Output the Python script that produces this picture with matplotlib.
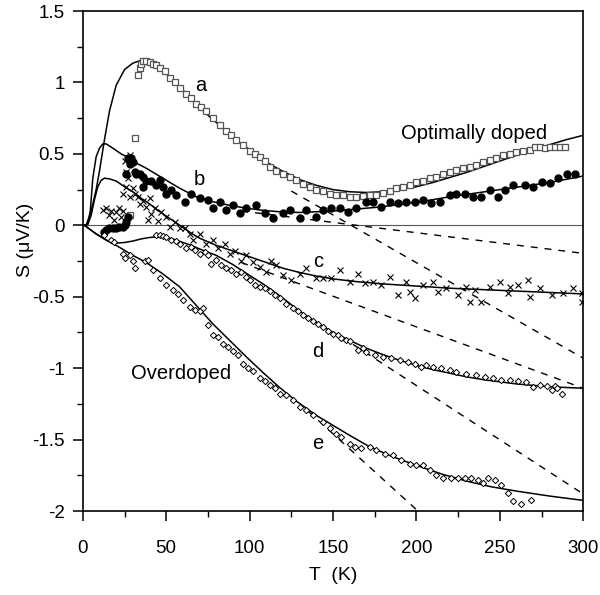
import numpy as np
import matplotlib
matplotlib.use("Agg")
from matplotlib import pyplot as plt
from matplotlib.ticker import MultipleLocator, FuncFormatter

plt.rcParams['font.family'] = ['Liberation Sans', 'DejaVu Sans']
plt.rcParams['axes.unicode_minus'] = False

a_T = [28, 31, 33, 34, 35, 36, 38, 40, 42, 44, 46, 49, 52, 55, 58, 62, 65, 68, 71, 74, 78, 82, 86, 89, 92,
       96, 100, 103, 106, 109, 112, 116, 120, 124, 128, 132, 136, 140, 144, 148, 152, 156, 160, 164, 168,
       172, 176, 180, 184, 188, 192, 196, 200, 204, 208, 212, 216, 220, 224, 228, 232, 236, 240, 244, 248,
       252, 256, 260, 264, 268, 271, 274, 277, 280, 283, 286, 289]
a_S = [0.07, 0.61, 1.05, 1.10, 1.13, 1.15, 1.15, 1.14, 1.13, 1.12, 1.10, 1.08, 1.03, 1.00, 0.96, 0.92, 0.89,
       0.85, 0.83, 0.80, 0.75, 0.70, 0.66, 0.63, 0.60, 0.56, 0.52, 0.50, 0.48, 0.45, 0.41, 0.38, 0.36, 0.34,
       0.32, 0.29, 0.27, 0.25, 0.24, 0.22, 0.21, 0.21, 0.20, 0.20, 0.205, 0.21, 0.215, 0.225, 0.24, 0.26,
       0.27, 0.28, 0.30, 0.31, 0.33, 0.34, 0.36, 0.37, 0.39, 0.40, 0.41, 0.42, 0.44, 0.46, 0.47, 0.49,
       0.50, 0.51, 0.52, 0.53, 0.55, 0.55, 0.54, 0.55, 0.55, 0.55, 0.55]

b_T = [13, 14, 16, 18, 20, 22, 24, 25, 26, 27, 26, 27, 28, 29, 30, 31, 32, 34, 36, 36, 38, 41, 44, 46,
       48, 50, 53, 56, 61, 65, 70, 75, 78, 82, 86, 90, 94, 98, 104, 109, 114, 120, 124, 130, 134, 140,
       144, 149, 154, 159, 164, 170, 174, 179, 184, 189, 194, 199, 204, 209, 214, 220, 224, 229, 234,
       239, 244, 249, 253, 258, 265, 270, 275, 280, 285, 290, 295]
b_S = [-0.05, -0.03, -0.02, -0.02, -0.02, -0.01, -0.01, 0.0, 0.02, 0.06, 0.36, 0.47, 0.43, 0.47, 0.44,
       0.37, 0.36, 0.36, 0.34, 0.27, 0.31, 0.31, 0.28, 0.32, 0.27, 0.22, 0.25, 0.21, 0.16, 0.22, 0.19,
       0.18, 0.12, 0.16, 0.11, 0.14, 0.085, 0.12, 0.14, 0.085, 0.05, 0.085, 0.107, 0.05, 0.107, 0.06,
       0.107, 0.12, 0.12, 0.095, 0.12, 0.165, 0.165, 0.13, 0.165, 0.155, 0.165, 0.165, 0.18, 0.155,
       0.165, 0.21, 0.22, 0.22, 0.20, 0.20, 0.25, 0.20, 0.25, 0.28, 0.28, 0.27, 0.305, 0.295, 0.33,
       0.36, 0.36]

c_T = [12, 14, 16, 17, 19, 20, 22, 23, 24, 24, 25, 26, 26, 27, 28, 28, 30, 31, 33, 34, 36, 38, 39, 40,
       41, 43, 45, 47, 50, 52, 55, 58, 61, 64, 66, 70, 74, 78, 81, 85, 88, 91, 95, 98, 102, 106, 110,
       113, 116, 120, 125, 130, 134, 140, 144, 149, 154, 160, 165, 169, 174, 179, 184, 189, 194, 196,
       199, 204, 210, 213, 218, 225, 230, 232, 235, 239, 244, 250, 255, 256, 261, 267, 268, 274, 281,
       288, 294, 299, 299]
c_S = [0.11, 0.12, 0.07, 0.10, 0.04, 0.09, 0.12, 0.06, 0.10, 0.22, 0.45, 0.37, 0.27, 0.33, 0.49, 0.20,
       0.26, 0.22, 0.20, 0.15, 0.17, 0.13, 0.04, 0.19, 0.08, 0.12, 0.03, 0.09, 0.06, -0.01, 0.02, -0.02,
       -0.02, -0.06, -0.10, -0.06, -0.13, -0.10, -0.16, -0.13, -0.20, -0.18, -0.25, -0.21, -0.26, -0.29,
       -0.33, -0.25, -0.28, -0.35, -0.38, -0.34, -0.30, -0.37, -0.37, -0.37, -0.31, -0.395, -0.34,
       -0.405, -0.395, -0.42, -0.36, -0.49, -0.395, -0.465, -0.51, -0.42, -0.395, -0.465, -0.44,
       -0.49, -0.43, -0.535, -0.45, -0.535, -0.43, -0.395, -0.475, -0.43, -0.42, -0.385, -0.50, -0.44,
       -0.49, -0.475, -0.44, -0.475, -0.535]

d_T = [13, 17, 19, 44, 46, 48, 50, 53, 56, 58, 62, 65, 67, 70, 73, 75, 77, 80, 83, 86, 89, 92, 95, 98,
       100, 103, 106, 109, 112, 115, 118, 122, 126, 129, 132, 135, 138, 141, 144, 147, 150, 153, 155,
       158, 160, 165, 168, 170, 175, 180, 185, 190, 195, 199, 203, 206, 210, 215, 220, 224, 230, 236,
       241, 246, 251, 256, 261, 266, 270, 274, 278, 281, 283, 284, 287]
d_S = [-0.07, -0.10, -0.12, -0.07, -0.07, -0.075, -0.08, -0.10, -0.11, -0.13, -0.16, -0.15, -0.17, -0.20,
       -0.19, -0.21, -0.27, -0.24, -0.28, -0.30, -0.31, -0.34, -0.33, -0.36, -0.38, -0.42, -0.43, -0.44,
       -0.46, -0.49, -0.51, -0.55, -0.58, -0.60, -0.63, -0.65, -0.67, -0.69, -0.71, -0.74, -0.76, -0.77,
       -0.79, -0.80, -0.81, -0.87, -0.86, -0.885, -0.91, -0.92, -0.93, -0.94, -0.955, -0.97, -0.99,
       -0.98, -0.99, -1.00, -1.01, -1.025, -1.04, -1.05, -1.06, -1.07, -1.08, -1.08, -1.09, -1.095,
       -1.13, -1.12, -1.125, -1.15, -1.125, -1.14, -1.18]

e_T = [24, 25, 28, 30, 31, 37, 39, 42, 46, 50, 54, 57, 60, 64, 67, 70, 72, 75, 78, 81, 84, 87, 90, 93,
       96, 99, 102, 106, 109, 112, 115, 118, 122, 126, 130, 134, 138, 144, 148, 152, 155, 160, 163, 167,
       172, 176, 181, 186, 191, 196, 200, 204, 208, 212, 216, 221, 225, 229, 233, 237, 240, 243, 247,
       251, 255, 258, 263, 269]
e_S = [-0.20, -0.23, -0.21, -0.25, -0.30, -0.25, -0.24, -0.31, -0.37, -0.42, -0.45, -0.48, -0.52, -0.57,
       -0.59, -0.60, -0.58, -0.70, -0.77, -0.78, -0.83, -0.85, -0.88, -0.91, -0.97, -1.00, -1.02, -1.07,
       -1.09, -1.12, -1.14, -1.18, -1.19, -1.22, -1.27, -1.29, -1.33, -1.375, -1.42, -1.46, -1.48, -1.53,
       -1.55, -1.56, -1.55, -1.57, -1.60, -1.61, -1.64, -1.67, -1.68, -1.68, -1.71, -1.75, -1.77, -1.77,
       -1.77, -1.77, -1.77, -1.78, -1.80, -1.77, -1.78, -1.82, -1.87, -1.93, -1.95, -1.92]

# ---- model curves (solid) ----
a_fit_T = [2, 5, 8, 10, 13, 16, 20, 25, 30, 35, 40, 46, 52, 58, 64, 70, 76, 82, 88, 94, 100, 106, 112,
           118, 124, 130, 140, 150, 160, 170, 180, 190, 200, 210, 220, 230, 240, 250, 260, 270, 280,
           290, 300]
a_fit_S = [0.0, 0.10, 0.25, 0.38, 0.60, 0.80, 0.98, 1.09, 1.135, 1.155, 1.145, 1.10, 1.04, 0.97, 0.90,
           0.83, 0.76, 0.70, 0.64, 0.58, 0.53, 0.47, 0.43, 0.39, 0.355, 0.32, 0.28, 0.25, 0.235, 0.23,
           0.235, 0.25, 0.27, 0.30, 0.335, 0.37, 0.41, 0.45, 0.49, 0.53, 0.565, 0.60, 0.63]

b_fit_T = [1, 3, 4.5, 6, 8, 10, 12, 14, 18, 23, 28, 33, 38, 43, 48, 53, 58, 63, 68, 78, 88, 98, 108,
           118, 130, 140, 150, 160, 175, 190, 205, 220, 235, 250, 265, 280, 300]
b_fit_S = [0.0, 0.01, 0.10, 0.33, 0.48, 0.54, 0.57, 0.57, 0.54, 0.50, 0.47, 0.43, 0.40, 0.365, 0.33,
           0.295, 0.26, 0.23, 0.20, 0.165, 0.14, 0.12, 0.105, 0.095, 0.09, 0.095, 0.10, 0.11, 0.125,
           0.145, 0.17, 0.20, 0.225, 0.25, 0.275, 0.30, 0.345]

c_fit_T = [1, 3, 5, 7, 9, 11, 13, 16, 20, 25, 30, 35, 40, 45, 50, 55, 60, 65, 70, 80, 90, 100, 110,
           120, 130, 140, 150, 165, 180, 200, 220, 240, 260, 280, 300]
c_fit_S = [0.0, 0.005, 0.07, 0.18, 0.27, 0.315, 0.33, 0.325, 0.31, 0.27, 0.235, 0.19, 0.15, 0.105,
           0.065, 0.025, -0.015, -0.055, -0.09, -0.14, -0.18, -0.22, -0.26, -0.30, -0.33, -0.355,
           -0.375, -0.395, -0.41, -0.425, -0.44, -0.45, -0.46, -0.47, -0.48]

d_fit_T = [1, 8, 15, 20, 25, 30, 35, 40, 45, 50, 55, 60, 65, 70, 80, 90, 100, 110, 120, 130, 140,
           150, 160, 170, 180, 190, 200, 210, 220, 230, 240, 250, 260, 270, 280, 290, 300]
d_fit_S = [0.0, -0.06, -0.11, -0.125, -0.12, -0.11, -0.095, -0.085, -0.08, -0.085, -0.10, -0.12,
           -0.14, -0.165, -0.21, -0.275, -0.35, -0.425, -0.51, -0.60, -0.68, -0.75, -0.805, -0.86,
           -0.905, -0.945, -0.98, -1.01, -1.035, -1.06, -1.08, -1.095, -1.11, -1.12, -1.13, -1.135,
           -1.14]

e_fit_T = [1, 8, 15, 20, 25, 30, 38, 48, 58, 68, 78, 88, 98, 108, 118, 128, 140, 150, 160, 172, 186,
           200, 215, 230, 245, 260, 280, 300]
e_fit_S = [0.0, -0.06, -0.11, -0.14, -0.175, -0.21, -0.26, -0.34, -0.43, -0.56, -0.69, -0.805, -0.92,
           -1.03, -1.135, -1.23, -1.33, -1.40, -1.47, -1.55, -1.62, -1.68, -1.74, -1.79, -1.83, -1.86,
           -1.895, -1.925]

# ---- dashed linear extrapolations (end points) ----
dash_T = [[95, 300], [125, 300], [95, 300], [155, 300], [135, 201]]
dash_S = [[0.10, -0.196], [0.24, -0.93], [-0.26, -1.14], [-0.78, -1.88], [-1.30, -2.0]]

labels = ['a', 'b', 'c', 'd', 'e']
label_T = [71, 70, 141, 141, 141]
label_S = [0.98, 0.32, -0.255, -0.885, -1.525]

fig = plt.figure(figsize=(6, 5.95), dpi=100)
ax = fig.add_axes([0.138, 0.141, 0.834, 0.8405])

ax.axhline(0, color='#555555', lw=0.8, zorder=1)

for T, S in zip(dash_T, dash_S):
    ax.plot(T, S, color='black', lw=1.0, ls=(0, (5, 5)), zorder=2)

for T, S in [(a_fit_T, a_fit_S), (b_fit_T, b_fit_S), (c_fit_T, c_fit_S),
             (d_fit_T, d_fit_S), (e_fit_T, e_fit_S)]:
    ax.plot(T, S, color='black', lw=1.1, zorder=3)

ax.plot(a_T, a_S, ls='none', marker='s', ms=5, mfc='white', mec='#555555', mew=0.9, zorder=4)
ax.plot(b_T, b_S, ls='none', marker='o', ms=5, mfc='black', mec='black', zorder=4)
ax.plot(c_T, c_S, ls='none', marker='x', ms=5, mec='black', mew=0.8, zorder=4)
ax.plot(d_T, d_S, ls='none', marker='D', ms=3.2, mfc='white', mec='black', mew=0.7, zorder=4)
ax.plot(e_T, e_S, ls='none', marker='D', ms=3.2, mfc='white', mec='black', mew=0.7, zorder=4)

for lab, T, S in zip(labels, label_T, label_S):
    ax.text(T, S, lab, fontsize=14.5, ha='center', va='center')
ax.text(234.5, 0.645, 'Optimally doped', fontsize=14.5, ha='center', va='center')
ax.text(58.7, -1.036, 'Overdoped', fontsize=14.5, ha='center', va='center')

ax.set_xlim(0, 300)
ax.set_ylim(-2, 1.5)
ax.xaxis.set_major_locator(MultipleLocator(50))
ax.xaxis.set_minor_locator(MultipleLocator(25))
ax.yaxis.set_major_locator(MultipleLocator(0.5))
ax.yaxis.set_minor_locator(MultipleLocator(0.25))
ax.yaxis.set_major_formatter(FuncFormatter(lambda v, p: '%g' % v))
ax.tick_params(which='major', direction='out', length=7, width=1.1, labelsize=13.5)
ax.tick_params(which='minor', direction='out', length=4.5, width=1.0)
ax.tick_params(axis='x', which='major', pad=14)
ax.tick_params(axis='y', which='major', pad=6)
for sp in ax.spines.values():
    sp.set_linewidth(1.2)

ax.set_xlabel('T  (K)', fontsize=14)
ax.set_ylabel('S (\u03bcV/K)', fontsize=14)
ax.xaxis.set_label_coords(0.5, -0.112)
ax.yaxis.set_label_coords(-0.098, 0.542)

fig.savefig('out.png', dpi=100)
